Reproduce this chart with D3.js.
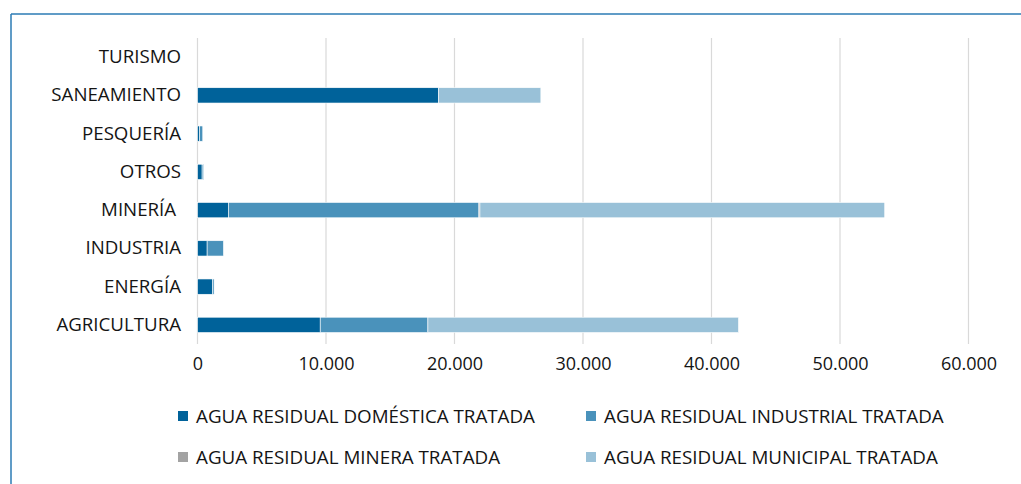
<!DOCTYPE html>
<html>
<head>
<meta charset="utf-8">
<script src="https://cdn.jsdelivr.net/npm/d3@7"></script>
<style>
  html, body { margin: 0; padding: 0; background: #fff; }
  svg { display: block; }
  text { font-family: "Open Sans", "Liberation Sans", sans-serif; fill: #141414; }
</style>
</head>
<body>
<svg id="chart" width="1021" height="484"></svg>
<script>
// Sectors, top to bottom
const categories = ["TURISMO", "SANEAMIENTO", "PESQUERÍA", "OTROS", "MINERÍA ", "INDUSTRIA", "ENERGÍA", "AGRICULTURA"];

// Treated wastewater by origin, per sector
const domestica  = [0, 18750, 150, 360, 2400, 750, 1160, 9550];
const industrial = [0, 0, 260, 120, 19500, 1270, 130, 8380];
const minera     = [0, 0, 0, 0, 80, 0, 0, 0];
const municipal  = [0, 7970, 0, 0, 31500, 0, 0, 24170];

const seriesNames = [
  "AGUA RESIDUAL DOMÉSTICA TRATADA",
  "AGUA RESIDUAL INDUSTRIAL TRATADA",
  "AGUA RESIDUAL MINERA TRATADA",
  "AGUA RESIDUAL MUNICIPAL TRATADA"
];
const seriesColors = ["#00629a", "#4a92bb", "#a3a3a3", "#99c1d8"];
const tickValues = [0, 10000, 20000, 30000, 40000, 50000, 60000];

const rows = categories.map((c, i) => ({
  cat: c,
  s0: domestica[i], s1: industrial[i], s2: minera[i], s3: municipal[i]
}));
const keys = ["s0", "s1", "s2", "s3"];
const stacked = d3.stack().keys(keys)(rows);

const svg = d3.select("#chart");

// outer frame (top and left edges)
svg.append("line").attr("x1", 11).attr("y1", 14).attr("x2", 1021).attr("y2", 14)
  .attr("stroke", "#2b7bb5").attr("stroke-width", 1.5);
svg.append("line").attr("x1", 11).attr("y1", 14).attr("x2", 11).attr("y2", 484)
  .attr("stroke", "#2b7bb5").attr("stroke-width", 1.5);

const x = d3.scaleLinear().domain([0, 60000]).range([197.5, 968.5]);
const y = d3.scaleBand().domain(categories).range([38, 344])
  .paddingInner(0.6).paddingOuter(0.3);

const fmt = d3.formatLocale({ decimal: ",", thousands: ".", grouping: [3], currency: ["", ""] }).format(",.0f");

// vertical gridlines
svg.append("g").selectAll("line").data(tickValues).join("line")
  .attr("x1", d => x(d)).attr("x2", d => x(d))
  .attr("y1", 38).attr("y2", 344)
  .attr("stroke", "#d9d9d9").attr("stroke-width", 1.2);

// x tick labels
const xAxis = d3.axisBottom(x).tickValues(tickValues).tickFormat(fmt).tickSize(0).tickPadding(0);
const gx = svg.append("g").attr("transform", "translate(0,357)").call(xAxis);
gx.select(".domain").remove();
gx.selectAll("text").attr("font-size", 18).attr("fill", "#141414")
  .style("font-family", '"Open Sans", sans-serif');

// category labels
const yAxis = d3.axisLeft(y).tickSize(0).tickPadding(0);
const gy = svg.append("g").attr("transform", "translate(181,0)").call(yAxis);
gy.select(".domain").remove();
gy.selectAll("text").attr("font-size", 18.7).attr("fill", "#141414")
  .style("white-space", "pre")
  .style("font-family", '"Open Sans", sans-serif');

// stacked bars
svg.append("g").selectAll("g").data(stacked).join("g")
  .attr("fill", (d, i) => seriesColors[i])
  .selectAll("rect").data(d => d.filter(p => p[1] - p[0] > 0)).join("rect")
  .attr("x", d => x(d[0]))
  .attr("width", d => x(d[1]) - x(d[0]))
  .attr("y", d => y(d.data.cat))
  .attr("height", y.bandwidth())
  .attr("stroke", "#ffffff").attr("stroke-width", 0.6);

// legend
const legendPos = [[178, 416], [586, 416], [178, 457], [586, 457]];
const lg = svg.append("g").selectAll("g").data(seriesNames).join("g")
  .attr("transform", (d, i) => `translate(${legendPos[i][0]},${legendPos[i][1]})`);
lg.append("rect").attr("x", 0).attr("y", -5).attr("width", 10).attr("height", 10)
  .attr("fill", (d, i) => seriesColors[i]);
lg.append("text").attr("x", 18).attr("y", 0).attr("dy", "0.35em")
  .attr("font-size", 18.8).text(d => d);
</script>
</body>
</html>
